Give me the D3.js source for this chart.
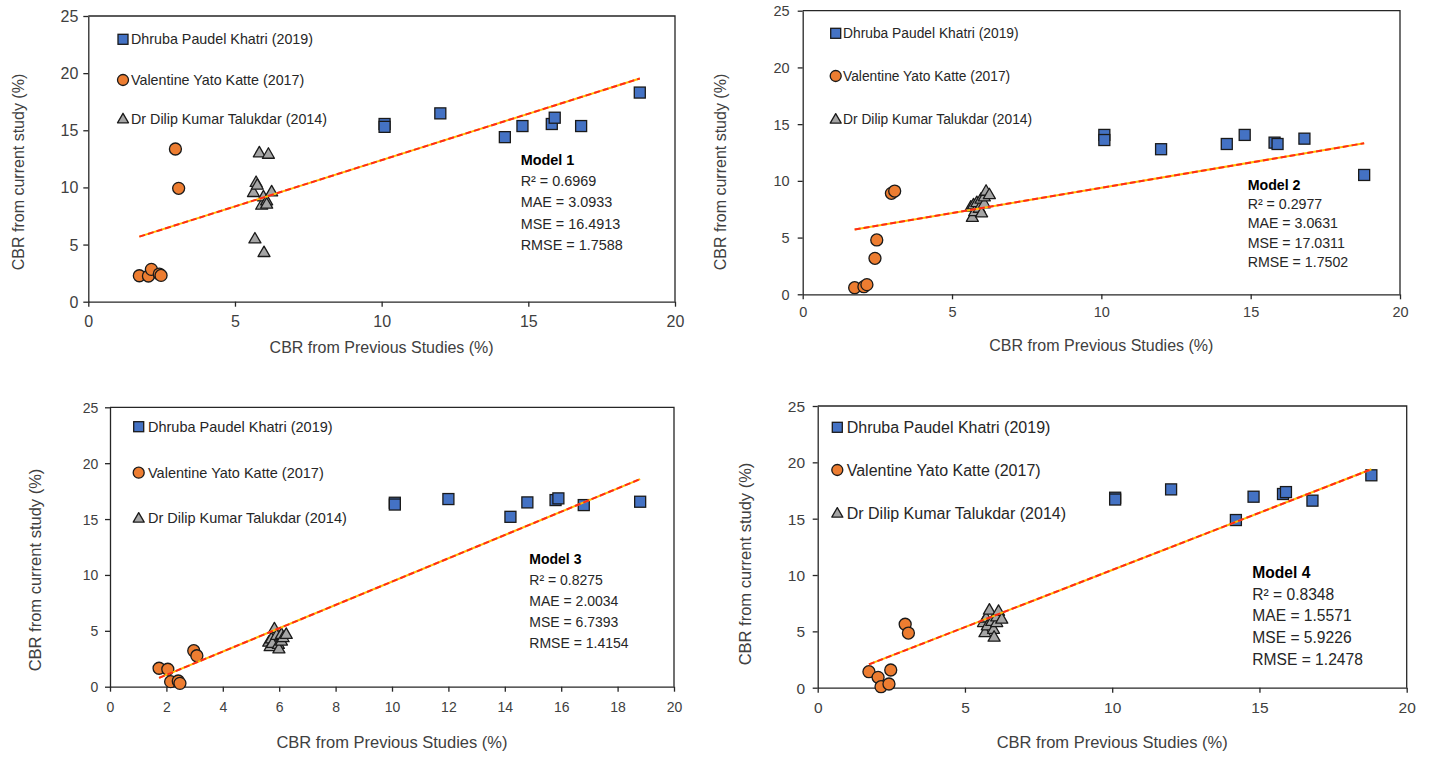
<!DOCTYPE html>
<html>
<head>
<meta charset="utf-8">
<script src="https://cdn.jsdelivr.net/npm/d3@7"></script>
<style>
  body { margin: 0; background: #fff; }
  svg { font-family: "Liberation Sans", Arial, sans-serif; }
</style>
</head>
<body>
<svg id="chart" width="1434" height="759"></svg>
<script>
// series names
var seriesNames = ["Dhruba Paudel Khatri (2019)", "Valentine Yato Katte (2017)", "Dr Dilip Kumar Talukdar (2014)"];

// CBR from previous studies (x), same for every model
var khatriX   = [10.1, 10.1, 12.0, 14.2, 14.8, 15.8, 15.9, 16.8, 18.8];
var katteX    = [1.74, 2.05, 2.15, 2.42, 2.48, 2.97, 3.08];
var talukdarX = [5.63, 5.68, 5.72, 5.76, 5.83, 5.91, 5.97, 5.99, 6.08, 6.08, 6.14, 6.25];

// CBR from current study (y), one list per model and series
var model1Khatri   = [15.55, 15.3, 16.48, 14.4, 15.37, 15.55, 16.1, 15.37, 18.3];
var model1Katte    = [2.27, 2.25, 2.83, 2.42, 2.3, 13.36, 9.92];
var model1Talukdar = [9.57, 5.51, 10.45, 10.21, 13.04, 8.46, 9.19, 4.32, 8.84, 8.55, 12.92, 9.63];

var model2Khatri   = [14.05, 13.6, 12.79, 13.25, 14.05, 13.37, 13.25, 13.72, 10.52];
var model2Katte    = [0.58, 0.67, 0.85, 3.17, 4.79, 8.9, 9.1];
var model2Talukdar = [7.7, 6.8, 7.9, 7.3, 8.1, 7.6, 8.4, 7.2, 8.0, 8.6, 9.1, 8.8];

var model3Khatri   = [16.46, 16.3, 16.79, 15.2, 16.49, 16.7, 16.85, 16.25, 16.55];
var model3Katte    = [1.65, 1.56, 0.45, 0.51, 0.3, 3.22, 2.77];
var model3Talukdar = [4.0, 3.6, 4.3, 3.9, 5.2, 4.6, 3.8, 3.4, 4.1, 4.7, 4.4, 4.7];

var model4Khatri   = [16.86, 16.7, 17.6, 14.88, 16.95, 17.19, 17.36, 16.6, 18.85];
var model4Katte    = [1.42, 0.92, 0.09, 0.33, 1.57, 5.63, 4.85];
var model4Talukdar = [5.8, 4.9, 6.2, 5.5, 6.9, 5.9, 5.2, 4.5, 5.8, 6.3, 6.8, 6.1];

// linear trend lines
var trendSlope     = [0.811, 0.446, 1.043, 1.015];
var trendIntercept = [4.28, 4.93, -1.03, 0.30];

// model statistics
var modelNames = ["Model 1", "Model 2", "Model 3", "Model 4"];
var r2Values   = ["0.6969", "0.2977", "0.8275", "0.8348"];
var maeValues  = ["3.0933", "3.0631", "2.0034", "1.5571"];
var mseValues  = ["16.4913", "17.0311", "6.7393", "5.9226"];
var rmseValues = ["1.7588", "1.7502", "1.4154", "1.2478"];

// ticks
var xTicksWide = [0, 5, 10, 15, 20];
var xTicksFine = [0, 2, 4, 6, 8, 10, 12, 14, 16, 18, 20];
var yTicks     = [0, 5, 10, 15, 20, 25];

var xLabel = "CBR from Previous Studies (%)";
var yLabel = "CBR from current study (%)";

var modelY = [
  [model1Khatri, model1Katte, model1Talukdar],
  [model2Khatri, model2Katte, model2Talukdar],
  [model3Khatri, model3Katte, model3Talukdar],
  [model4Khatri, model4Katte, model4Talukdar]
];
var seriesX = [khatriX, katteX, talukdarX];
var colours = ["#4472C4", "#ED7D31", "#A5A5A5"];

// panel layout
var panels = [
  {left: 88.3, right: 675, top: 16, bottom: 301.7, xTicks: xTicksWide, tickFont: 16, tickDy: 20, tickDx: 10,
   legX: 123, legTextX: 131, legY: [39.3, 80, 119], legFont: 14.3,
   statX: 520.7, statY: 160, statGap: 21.2, statFont: 14.4,
   xTitleY: 347, yTitleX: 18, yTitleY: 172, titleFont: 16},
  {left: 802.7, right: 1400, top: 10.7, bottom: 294.3, xTicks: xTicksWide, tickFont: 14.5, tickDy: 17.4, tickDx: 13,
   legX: 835.7, legTextX: 843, legY: [33.3, 76, 119.3], legFont: 13.8,
   statX: 1247.7, statY: 185, statGap: 19.2, statFont: 14.2,
   xTitleY: 345, yTitleX: 720, yTitleY: 172, titleFont: 16},
  {left: 110, right: 674, top: 407.3, bottom: 686.7, xTicks: xTicksFine, tickFont: 14, tickDy: 20, tickDx: 11.7,
   legX: 138.7, legTextX: 148, legY: [426.7, 472.7, 518.3], legFont: 14.5,
   statX: 529.3, statY: 559.3, statGap: 21, statFont: 14,
   xTitleY: 741.7, yTitleX: 35, yTitleY: 570, titleFont: 16.5},
  {left: 817.7, right: 1406.7, top: 406, bottom: 687.7, xTicks: xTicksWide, tickFont: 15.5, tickDy: 19.6, tickDx: 12.7,
   legX: 837.3, legTextX: 846.7, legY: [427.3, 470, 513.3], legFont: 16,
   statX: 1252.3, statY: 572.7, statGap: 21.6, statFont: 15.6,
   xTitleY: 741.7, yTitleX: 745, yTitleY: 564, titleFont: 16.5}
];

var svg = d3.select("#chart");
var axisColour = "#262626";
var textColour = "#404040";

var allX = khatriX.concat(katteX, talukdarX);
var xExtent = d3.extent(allX);

// draw one marker of a given series
function marker(g, s, cx, cy, size) {
  if (s === 0) {
    g.append("rect")
      .attr("x", cx - size / 2).attr("y", cy - size / 2)
      .attr("width", size).attr("height", size)
      .attr("fill", colours[0]).attr("stroke", "#1a1a1a").attr("stroke-width", 1.3);
  } else if (s === 1) {
    g.append("circle")
      .attr("cx", cx).attr("cy", cy).attr("r", size / 2 + 0.5)
      .attr("fill", colours[1]).attr("stroke", "#1a1a1a").attr("stroke-width", 1.3);
  } else {
    var h = size * 0.95;
    g.append("path")
      .attr("d", "M" + cx + "," + (cy - h * 0.6) + "L" + (cx + size / 2 + 0.5) + "," + (cy + h * 0.4) +
                 "L" + (cx - size / 2 - 0.5) + "," + (cy + h * 0.4) + "Z")
      .attr("fill", colours[2]).attr("stroke", "#1a1a1a").attr("stroke-width", 1.3)
      .attr("stroke-linejoin", "round");
  }
}

panels.forEach(function(p, i) {
  var g = svg.append("g");

  var x = d3.scaleLinear().domain([0, 20]).range([p.left, p.right]);
  var y = d3.scaleLinear().domain([0, 25]).range([p.bottom, p.top]);

  // plot frame (top and right)
  g.append("path")
    .attr("d", "M" + p.left + "," + p.top + "H" + p.right + "V" + p.bottom)
    .attr("fill", "none").attr("stroke", axisColour).attr("stroke-width", 1.3);

  // x axis
  var xa = g.append("g")
    .attr("transform", "translate(0," + p.bottom + ")")
    .call(d3.axisBottom(x).tickValues(p.xTicks).tickSize(5).tickSizeOuter(0).tickPadding(4));
  xa.select(".domain").attr("stroke", axisColour).attr("stroke-width", 1.3);
  xa.selectAll(".tick line").attr("stroke", axisColour).attr("stroke-width", 1.3);
  xa.selectAll(".tick text")
    .attr("y", null).attr("dy", null)
    .attr("transform", "translate(0," + p.tickDy + ")")
    .attr("dominant-baseline", "central")
    .attr("fill", textColour).style("font-size", p.tickFont + "px")
    .style("font-family", "'Liberation Sans', Arial, sans-serif");

  // y axis
  var ya = g.append("g")
    .attr("transform", "translate(" + p.left + ",0)")
    .call(d3.axisLeft(y).tickValues(yTicks).tickSize(5).tickSizeOuter(0));
  ya.select(".domain").attr("stroke", axisColour).attr("stroke-width", 1.3);
  ya.selectAll(".tick line").attr("stroke", axisColour).attr("stroke-width", 1.3);
  ya.selectAll(".tick text")
    .attr("x", -p.tickDx).attr("dy", null)
    .attr("dominant-baseline", "central")
    .attr("fill", textColour).style("font-size", p.tickFont + "px")
    .style("font-family", "'Liberation Sans', Arial, sans-serif");

  // points
  var pts = g.append("g");
  seriesX.forEach(function(xs, s) {
    xs.forEach(function(xv, k) {
      marker(pts, s, x(xv), y(modelY[i][s][k]), 11);
    });
  });

  // trend line
  var line = d3.line().x(function(d) { return x(d); })
    .y(function(d) { return y(trendSlope[i] * d + trendIntercept[i]); });
  g.append("path").datum(xExtent).attr("d", line)
    .attr("fill", "none").attr("stroke", "#FFC000").attr("stroke-width", 2);
  g.append("path").datum(xExtent).attr("d", line)
    .attr("fill", "none").attr("stroke", "#FF2A1A").attr("stroke-width", 2)
    .attr("stroke-dasharray", "6,3");

  // legend
  seriesNames.forEach(function(name, s) {
    marker(g, s, p.legX, p.legY[s], 10);
    g.append("text")
      .attr("x", p.legTextX).attr("y", p.legY[s])
      .attr("dominant-baseline", "central")
      .attr("fill", "#262626").style("font-size", p.legFont + "px")
      .text(name);
  });

  // stats box
  var stats = [modelNames[i], "R\u00B2 = " + r2Values[i], "MAE = " + maeValues[i],
               "MSE = " + mseValues[i], "RMSE = " + rmseValues[i]];
  stats.forEach(function(t, k) {
    g.append("text")
      .attr("x", p.statX).attr("y", p.statY + k * p.statGap)
      .attr("dominant-baseline", "central")
      .attr("fill", k === 0 ? "#000" : "#262626")
      .style("font-weight", k === 0 ? "bold" : "normal")
      .style("font-size", p.statFont + "px")
      .text(t);
  });

  // axis titles
  g.append("text")
    .attr("x", (p.left + p.right) / 2).attr("y", p.xTitleY)
    .attr("text-anchor", "middle").attr("dominant-baseline", "central")
    .attr("fill", textColour).style("font-size", p.titleFont + "px")
    .text(xLabel);

  g.append("text")
    .attr("transform", "translate(" + p.yTitleX + "," + p.yTitleY + ")rotate(-90)")
    .attr("text-anchor", "middle").attr("dominant-baseline", "central")
    .attr("fill", textColour).style("font-size", p.titleFont + "px")
    .text(yLabel);
});
</script>
</body>
</html>
